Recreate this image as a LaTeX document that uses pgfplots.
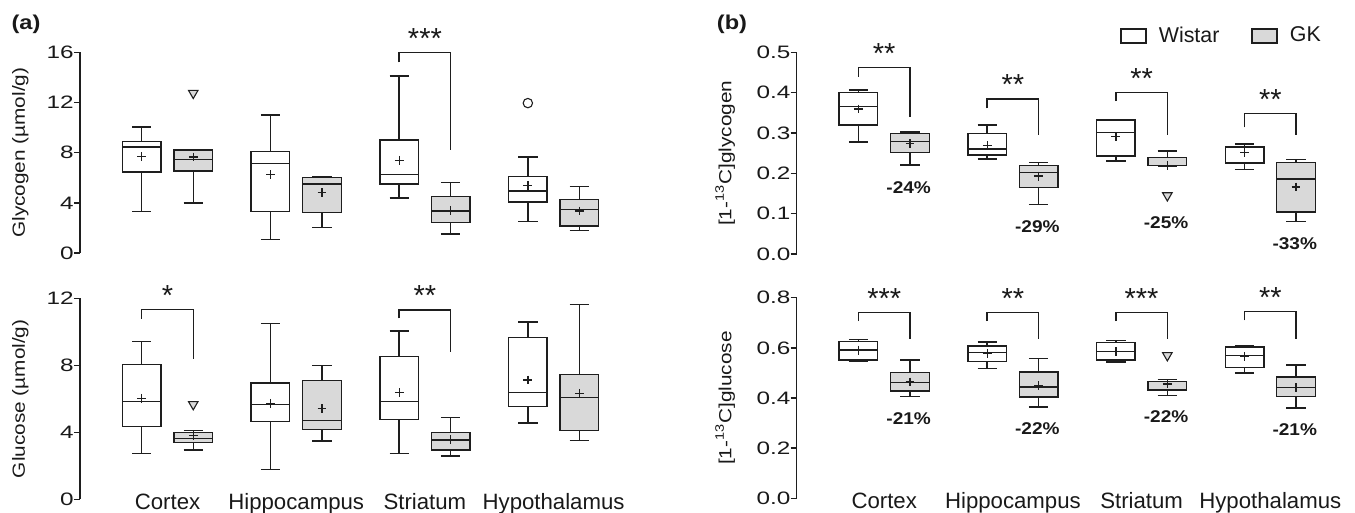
\documentclass[border=0pt]{standalone}
\usepackage{fontspec}
\setmainfont{Liberation Sans}
\newfontfamily\tickfont{Liberation Sans}[FakeStretch=1.35]
\newfontfamily\labfont{Liberation Sans}[FakeStretch=1.18]
\newfontfamily\pctfont{Liberation Sans}[FakeStretch=1.12]
\usepackage{pgfplots}
\pgfplotsset{compat=1.18}
\usepgfplotslibrary{statistics}
\definecolor{lc}{RGB}{30,30,30}
\definecolor{gk}{RGB}{217,217,217}
\definecolor{tc}{RGB}{25,25,25}

% box: draw position, lower whisker, lower quartile, median, upper quartile, upper whisker
\newcommand{\W}[6]{\addplot[lc, line width=0.7pt, boxplot prepared={draw position=#1, lower whisker=#2, lower quartile=#3, median=#4, upper quartile=#5, upper whisker=#6}, boxplot/every box/.style={fill=white}] coordinates {};}
\newcommand{\G}[6]{\addplot[lc, line width=0.7pt, boxplot prepared={draw position=#1, lower whisker=#2, lower quartile=#3, median=#4, upper quartile=#5, upper whisker=#6}, boxplot/every box/.style={fill=gk}] coordinates {};}

\pgfplotsset{
  myaxis/.style={
    scale only axis, width=275.4pt, xmin=0.32, xmax=4.6,
    anchor=south west, clip=false,
    axis y line*=left, axis x line*=bottom,
    y axis line style={line width=0.7pt, draw=lc},
    x axis line style={draw=none},
    xtick={1,2,3,4}, xtick style={draw=none},
    tick align=outside, major tick length=3pt,
    ytick style={line width=0.7pt, draw=lc},
    /pgf/number format/assume math mode=true,
    yticklabel style={font=\tickfont\fontsize{9}{10}\selectfont, inner sep=0pt, text=tc},
    xticklabel style={font=\fontsize{11.1}{13}\selectfont, anchor=base, inner sep=0pt, yshift=-1.9pt, text=tc},
    label style={font=\labfont\fontsize{8.8}{10}\selectfont, text=tc},
    boxplot/draw direction=y, boxplot/box extend=0.3, boxplot/whisker extend=0.15,
  },
  meanmk/.style={only marks, mark=+, mark size=2.2pt, lc, mark options={line width=0.65pt}},
  tri/.style={only marks, mark=triangle*, mark size=2.75pt, mark options={rotate=180, fill=gk, draw=lc, line width=0.55pt}},
  circ/.style={only marks, mark=*, mark size=2.35pt, mark options={fill=white, draw=lc, line width=0.55pt}},
  brk/.style={lc, line width=0.7pt},
}
\tikzset{
  stars/.style={anchor=north, yshift=12.25pt, inner sep=0pt, font=\fontsize{14.5}{14.5}\selectfont, text=tc},
  pct/.style={anchor=center, inner sep=0pt, font=\pctfont\bfseries\fontsize{8.5}{10}\selectfont, text=tc},
  panel/.style={font=\labfont\bfseries\fontsize{10}{11}\selectfont, text=tc, inner sep=0pt},
}

\begin{document}
\begin{tikzpicture}
\path[use as bounding box] (0,0) rectangle (677.5pt,-256.5pt);
\node[panel] at (13pt,-12pt) {(a)};
\node[panel] at (366pt,-12pt) {(b)};

% ---------------- (a) top: glycogen
\begin{axis}[myaxis, at={(40pt,-126.5pt)}, height=100.35pt,
  ymin=0, ymax=16, ytick={0,4,8,12,16}, xticklabels={},
  ylabel={Glycogen (µmol/g)}, ylabel style={at={(axis description cs:-0.1084,0.5)}, anchor=center}]
\W{0.8}{3.3}{6.45}{8.46}{8.9}{10.05}
\G{1.2}{4.0}{6.55}{7.45}{8.2}{8.25}
\W{1.8}{1.1}{3.3}{7.15}{8.1}{11.0}
\G{2.2}{2.05}{3.25}{5.5}{6.0}{6.1}
\W{2.8}{4.4}{5.5}{6.25}{9.0}{14.1}
\G{3.2}{1.5}{2.45}{3.35}{4.5}{5.6}
\W{3.8}{2.5}{4.05}{4.95}{6.1}{7.65}
\G{4.2}{1.8}{2.15}{3.45}{4.27}{5.3}
\addplot[meanmk] coordinates {(0.8,7.7) (1.2,7.65) (1.8,6.25) (2.2,4.8) (2.8,7.4) (3.2,3.4) (3.8,5.4) (4.2,3.35)};
\addplot[tri] coordinates {(1.2,12.75)};
\addplot[circ] coordinates {(3.8,11.95)};
\addplot[brk] coordinates {(2.8,15.2) (2.8,15.97) (3.2,15.97) (3.2,8.2)};
\node[stars] at (axis cs:3,15.97) {***};
\end{axis}

% ---------------- (a) bottom: glucose
\begin{axis}[myaxis, at={(40pt,-249.65pt)}, height=100.5pt,
  ymin=0, ymax=12, ytick={0,4,8,12},
  xticklabels={Cortex,Hippocampus,Striatum,Hypothalamus},
  ylabel={Glucose (µmol/g)}, ylabel style={at={(axis description cs:-0.1084,0.5)}, anchor=center}]
\W{0.8}{2.75}{4.34}{5.83}{8.04}{9.41}
\G{1.2}{2.95}{3.38}{3.64}{3.98}{4.12}
\W{1.8}{1.79}{4.66}{5.67}{6.95}{10.5}
\G{2.2}{3.48}{4.18}{4.72}{7.08}{8.0}
\W{2.8}{2.75}{4.76}{5.83}{8.54}{10.05}
\G{3.2}{2.59}{2.95}{3.54}{3.98}{4.88}
\W{3.8}{4.56}{5.53}{6.37}{9.67}{10.59}
\G{4.2}{3.5}{4.10}{6.07}{7.46}{11.64}
\addplot[meanmk] coordinates {(0.8,6.03) (1.2,3.82) (1.8,5.73) (2.2,5.41) (2.8,6.37) (3.2,3.58) (3.8,7.12) (4.2,6.33)};
\addplot[tri] coordinates {(1.2,5.67)};
\addplot[brk] coordinates {(0.8,10.77) (0.8,11.32) (1.2,11.32) (1.2,8.38)};
\addplot[brk] coordinates {(2.8,10.8) (2.8,11.3) (3.2,11.3) (3.2,8.82)};
\node[stars] at (axis cs:1,11.32) {*};
\node[stars] at (axis cs:3,11.3) {**};
\end{axis}

% ---------------- (b) top: [1-13C]glycogen
\begin{axis}[myaxis, at={(398.35pt,-127pt)}, height=100.85pt,
  ymin=0, ymax=0.5, ytick={0,0.1,0.2,0.3,0.4,0.5}, xticklabels={},
  /pgf/number format/.cd, fixed, fixed zerofill, precision=1, /pgfplots/.cd,
  ylabel={[1-\textsuperscript{13}C]glycogen}, ylabel style={at={(axis description cs:-0.130,0.5)}, anchor=center},
  legend columns=2,
  legend style={draw=none, fill=none, inner sep=0pt, at={(0.587,1.081)}, anchor=west,
    font=\fontsize{10.7}{13}\selectfont, text=tc,
    /tikz/every odd column/.append style={column sep=4pt},
    /tikz/every even column/.append style={column sep=14pt}},
  ]
\addlegendimage{legend image code/.code={\draw[lc, line width=0.7pt, fill=white] (0pt,-3.5pt) rectangle (12.5pt,3.5pt);}}
\addlegendentry{Wistar}
\addlegendimage{legend image code/.code={\draw[lc, line width=0.7pt, fill=gk] (0pt,-3.5pt) rectangle (12.5pt,3.5pt);}}
\addlegendentry{GK}
\W{0.8}{0.278}{0.32}{0.365}{0.401}{0.407}
\G{1.2}{0.221}{0.252}{0.2785}{0.298}{0.3025}
\W{1.8}{0.2355}{0.245}{0.26}{0.299}{0.32}
\G{2.2}{0.123}{0.1645}{0.2025}{0.22}{0.2264}
\W{2.8}{0.2306}{0.243}{0.3017}{0.332}{0.332}
\G{3.2}{0.218}{0.219}{0.22}{0.2397}{0.2554}
\W{3.8}{0.21}{0.2256}{0.264}{0.266}{0.2727}
\G{4.2}{0.081}{0.104}{0.186}{0.2264}{0.2347}
\addplot[meanmk] coordinates {(0.8,0.3595) (1.2,0.274) (1.8,0.269) (2.2,0.193) (2.8,0.291) (3.2,0.22) (3.8,0.251) (4.2,0.166)};
\addplot[tri] coordinates {(3.2,0.145)};
\addplot[brk] coordinates {(0.8,0.44) (0.8,0.463) (1.2,0.463) (1.2,0.34)};
\addplot[brk] coordinates {(1.8,0.361) (1.8,0.384) (2.2,0.384) (2.2,0.296)};
\addplot[brk] coordinates {(2.8,0.379) (2.8,0.4) (3.2,0.4) (3.2,0.296)};
\addplot[brk] coordinates {(3.8,0.314) (3.8,0.348) (4.2,0.348) (4.2,0.296)};
\node[stars] at (axis cs:1,0.463) {**};
\node[stars] at (axis cs:2,0.384) {**};
\node[stars] at (axis cs:3,0.4) {**};
\node[stars] at (axis cs:4,0.348) {**};
\node[pct] at (axis cs:1.19,0.1656) {-24\%};
\node[pct] at (axis cs:2.19,0.0677) {-29\%};
\node[pct] at (axis cs:3.19,0.0776) {-25\%};
\node[pct] at (axis cs:4.19,0.0265) {-33\%};
\end{axis}

% ---------------- (b) bottom: [1-13C]glucose
\begin{axis}[myaxis, at={(398.35pt,-249.15pt)}, height=100.3pt,
  ymin=0, ymax=0.8, ytick={0,0.2,0.4,0.6,0.8},
  /pgf/number format/.cd, fixed, fixed zerofill, precision=1, /pgfplots/.cd,
  xticklabels={Cortex,Hippocampus,Striatum,Hypothalamus},
  ylabel={[1-\textsuperscript{13}C]glucose}, ylabel style={at={(axis description cs:-0.130,0.5)}, anchor=center}]
\W{0.8}{0.545}{0.551}{0.591}{0.626}{0.634}
\G{1.2}{0.405}{0.428}{0.461}{0.501}{0.551}
\W{1.8}{0.517}{0.545}{0.582}{0.607}{0.623}
\G{2.2}{0.364}{0.404}{0.444}{0.504}{0.557}
\W{2.8}{0.5435}{0.551}{0.585}{0.621}{0.629}
\G{3.2}{0.409}{0.432}{0.4345}{0.465}{0.473}
\W{3.8}{0.4997}{0.521}{0.569}{0.603}{0.61}
\G{4.2}{0.36}{0.405}{0.441}{0.4837}{0.5316}
\addplot[meanmk] coordinates {(0.8,0.591) (1.2,0.464) (1.8,0.578) (2.2,0.450) (2.8,0.585) (3.2,0.456) (3.8,0.565) (4.2,0.441)};
\addplot[tri] coordinates {(3.2,0.570)};
\addplot[brk] coordinates {(0.8,0.707) (0.8,0.7415) (1.2,0.7415) (1.2,0.634)};
\addplot[brk] coordinates {(1.8,0.707) (1.8,0.7415) (2.2,0.7415) (2.2,0.634)};
\addplot[brk] coordinates {(2.8,0.707) (2.8,0.7415) (3.2,0.7415) (3.2,0.634)};
\addplot[brk] coordinates {(3.8,0.71) (3.8,0.744) (4.2,0.744) (4.2,0.634)};
\node[stars] at (axis cs:1,0.7415) {***};
\node[stars] at (axis cs:2,0.7415) {**};
\node[stars] at (axis cs:3,0.7415) {***};
\node[stars] at (axis cs:4,0.744) {**};
\node[pct] at (axis cs:1.19,0.316) {-21\%};
\node[pct] at (axis cs:2.19,0.276) {-22\%};
\node[pct] at (axis cs:3.19,0.324) {-22\%};
\node[pct] at (axis cs:4.19,0.272) {-21\%};
\end{axis}
\end{tikzpicture}
\end{document}
